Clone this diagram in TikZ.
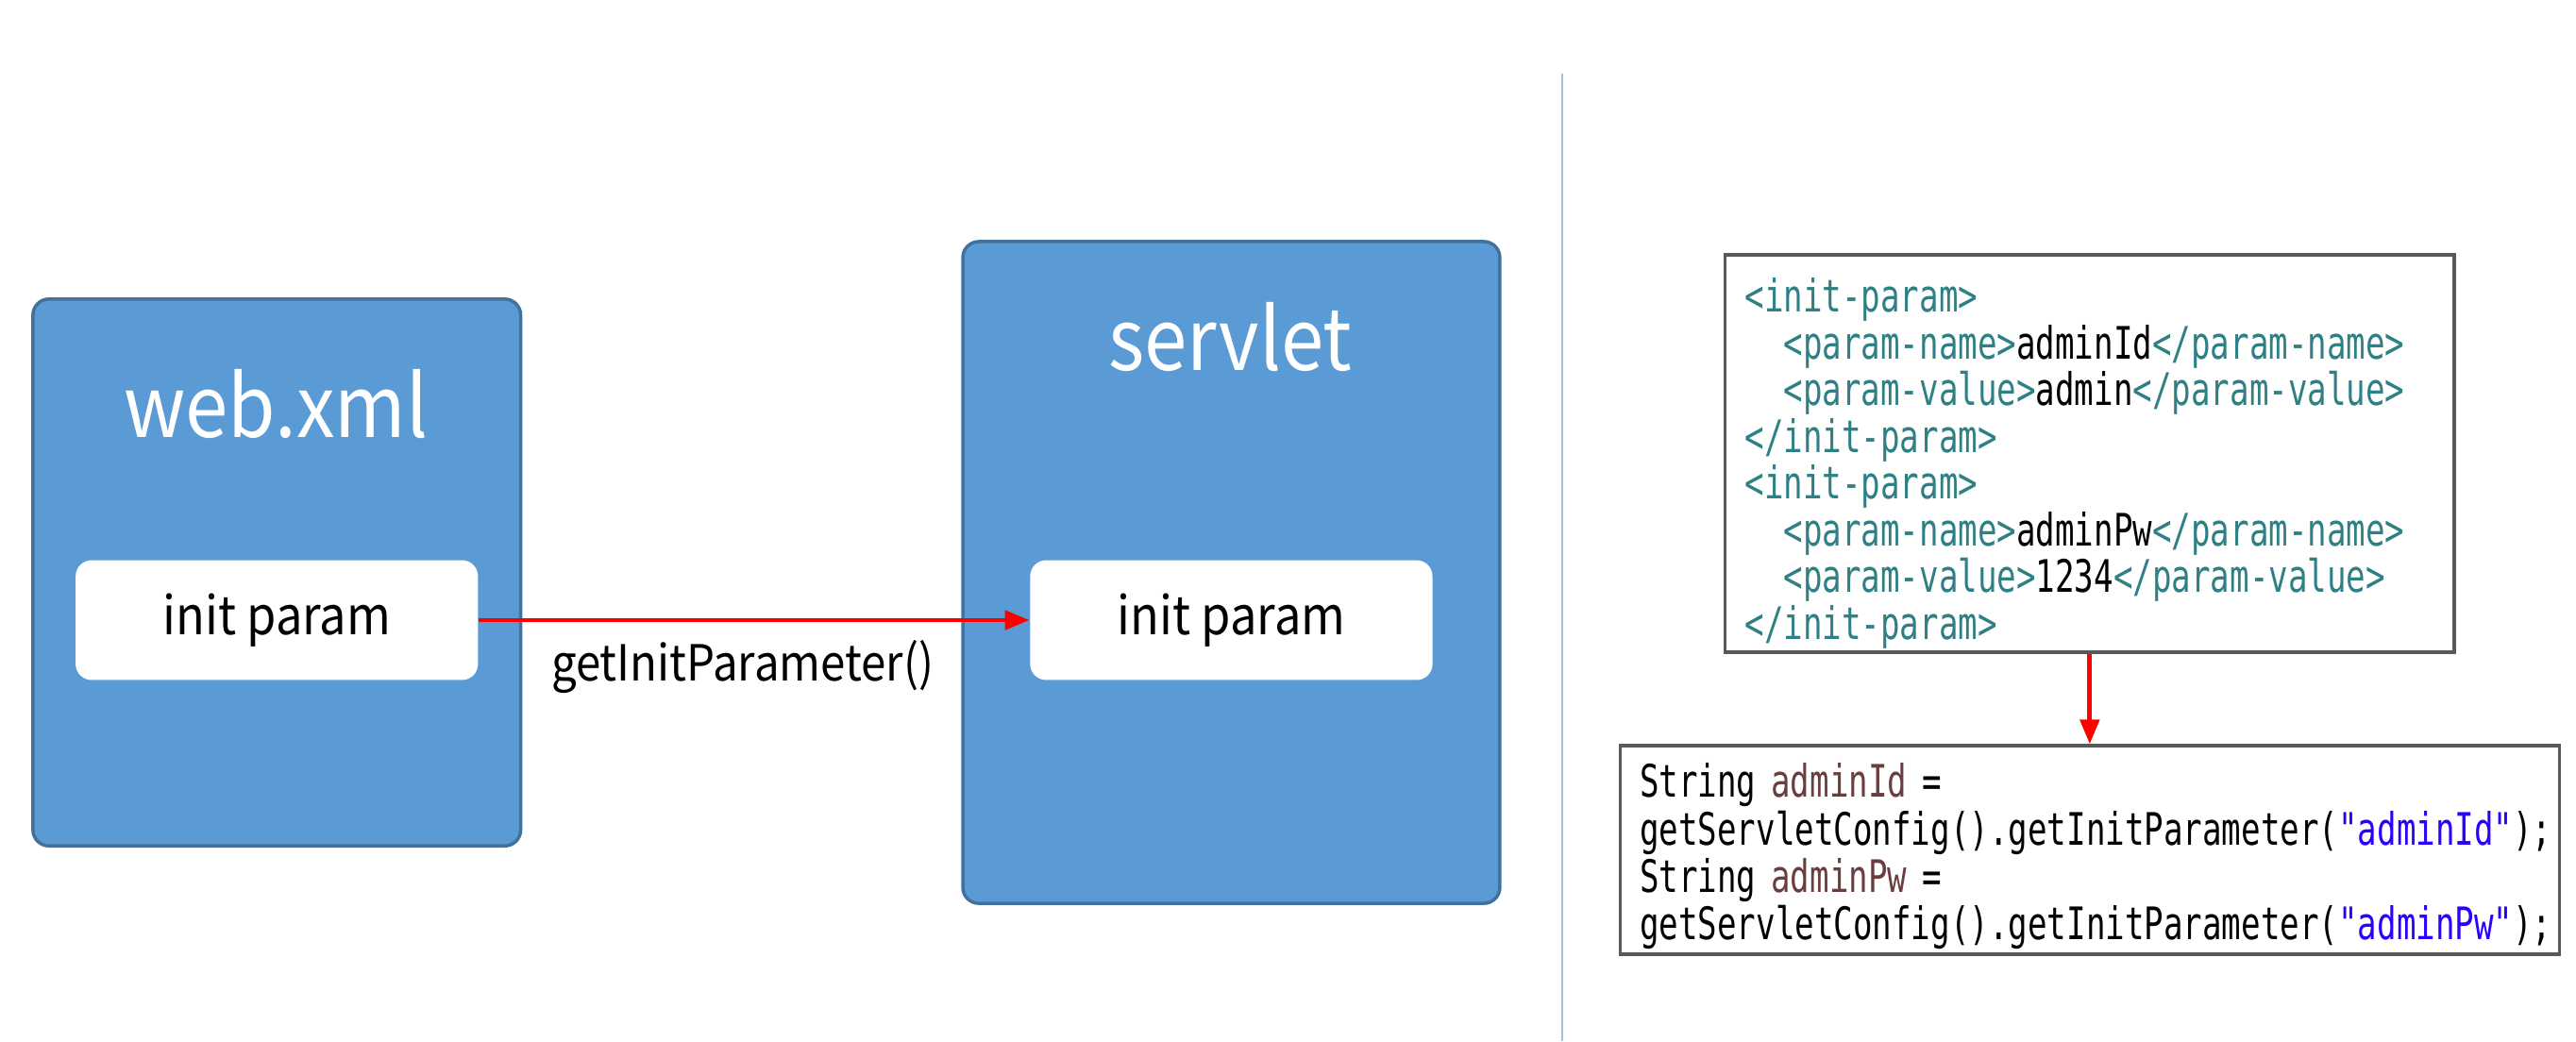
\documentclass[tikz,border=0pt]{standalone}
\usepackage{fontspec}
\setmainfont{Noto Sans CJK KR}[FakeStretch=0.9]
\newfontfamily\codefont[FakeStretch=0.72]{DejaVu Sans Mono}
\usetikzlibrary{arrows.meta}

\definecolor{boxblue}{RGB}{91,155,213}
\definecolor{boxedge}{RGB}{65,113,156}
\definecolor{sepblue}{RGB}{157,195,230}
\definecolor{tagteal}{RGB}{47,128,132}
\definecolor{varbrown}{RGB}{106,62,62}
\definecolor{strblue}{RGB}{42,0,255}
\definecolor{framegray}{RGB}{89,89,89}

\newcommand{\pxscl}{0.017404}
\newcommand{\coordscl}[1]{#1*\pxscl}
\newcommand{\bigbox}{\node[rectangle, rounded corners=0.17cm, draw=boxedge, fill=boxblue, line width=1pt]}
\newcommand{\parambox}{\node[rectangle, rounded corners=0.17cm, fill=white, minimum width=4.264cm, minimum height=1.270cm, font=\fontsize{16}{19}\selectfont]}
\newcommand{\boxtitle}{\node[text=white, font=\fontsize{25.8}{30}\selectfont]}
\newcommand{\codebox}{\node[rectangle, draw=framegray, line width=1pt, align=left, inner sep=0pt]}
\newcommand{\tg}[1]{\textcolor{tagteal}{#1}}
\newcommand{\ind}{\hphantom{xx}}

\tikzset{
    redarrow/.style={draw=red, line width=1.4pt, -{Triangle[length=2.6mm, width=2mm]}},
}

\begin{document}
\begin{tikzpicture}
    \useasboundingbox (0,0) rectangle (\coordscl{1568}, \coordscl{-634});

    % left side
    \bigbox[minimum width=5.169cm, minimum height=5.796cm] (web) at (\coordscl{168.5}, \coordscl{-348.5}) {};
    \bigbox[minimum width=5.691cm, minimum height=7.014cm] (servlet) at (\coordscl{749.5}, \coordscl{-348.5}) {};
    \boxtitle (webtitle) at (\coordscl{168}, \coordscl{-246}) {web.xml};
    \boxtitle (servlettitle) at (\coordscl{749}, \coordscl{-205}) {servlet};
    \parambox (webparam) at (\coordscl{168.5}, \coordscl{-377.5}) {init param};
    \parambox (servletparam) at (\coordscl{749.5}, \coordscl{-377.5}) {init param};
    \node[font=\fontsize{15}{18}\selectfont] (getlabel) at (\coordscl{452}, \coordscl{-406}) {getInitParameter()};

    \draw[redarrow]
        (webparam) -- (servletparam);

    % separator
    \draw[sepblue, line width=0.75pt]
        (\coordscl{951}, \coordscl{-45}) -- (\coordscl{951}, \coordscl{-634});

    % right side
    \codebox[minimum width=7.727cm, minimum height=4.212cm, text width=7.31cm,
        font=\codefont\fontsize{13.5}{14.1}\selectfont] (xmlbox) at (\coordscl{1272}, \coordscl{-276}) {%
        \rule{0pt}{16.3pt}\tg{<init-param>}\\
        \ind\tg{<param-name>}adminId\tg{</param-name>}\\
        \ind\tg{<param-value>}admin\tg{</param-value>}\\
        \tg{</init-param>}\\
        \tg{<init-param>}\\
        \ind\tg{<param-name>}adminPw\tg{</param-name>}\\
        \ind\tg{<param-value>}1234\tg{</param-value>}\\
        \tg{</init-param>}};
    \codebox[minimum width=9.955cm, minimum height=2.210cm, text width=9.537cm,
        font=\codefont\fontsize{13.5}{14.3}\selectfont] (javabox) at (\coordscl{1272}, \coordscl{-517.5}) {%
        \rule{0pt}{14pt}String \textcolor{varbrown}{adminId} =\\
        getServletConfig().getInitParameter(\textcolor{strblue}{"adminId"});\\
        String \textcolor{varbrown}{adminPw} =\\
        getServletConfig().getInitParameter(\textcolor{strblue}{"adminPw"});};

    \draw[redarrow]
        (xmlbox) -- (javabox);
\end{tikzpicture}
\end{document}
